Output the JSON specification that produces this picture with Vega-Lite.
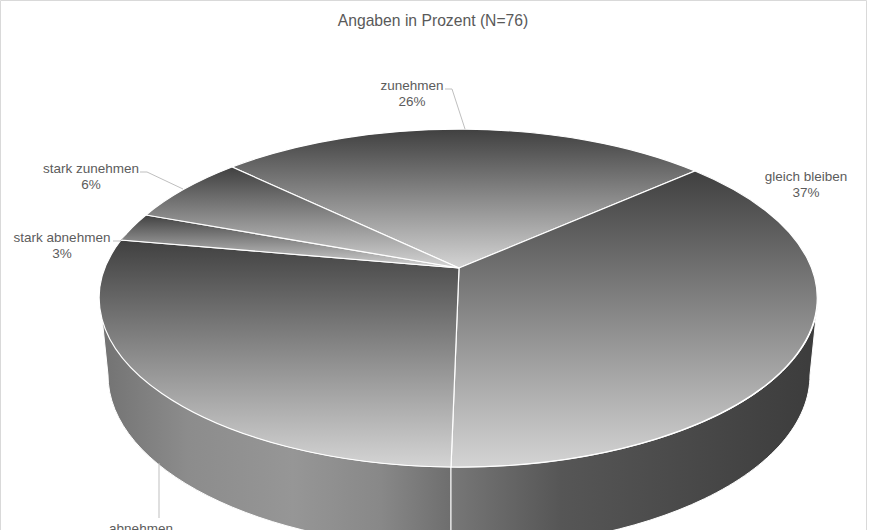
{
  "$schema": "https://vega.github.io/schema/vega-lite/v6.json",
  "width": 866,
  "height": 530,
  "autosize": {"type": "none"},
  "padding": {"left": 0, "right": 24, "top": 0, "bottom": 0},
  "background": "white",
  "view": {"stroke": "#d9d9d9", "fill": "white"},
  "title": {"text": "Angaben in Prozent (N=76)", "anchor": "middle", "font": "Liberation Sans", "fontSize": 15.7, "fontWeight": "normal", "color": "#595959", "dy": 34},
  "data": {"values": [
    {"Antwort": "zunehmen", "Prozent": 26, "Beschriftung": "zunehmen\n26%"},
    {"Antwort": "gleich bleiben", "Prozent": 37, "Beschriftung": "gleich bleiben\n37%"},
    {"Antwort": "abnehmen", "Prozent": 28, "Beschriftung": "abnehmen\n28%"},
    {"Antwort": "stark abnehmen", "Prozent": 3, "Beschriftung": "stark abnehmen\n3%"},
    {"Antwort": "stark zunehmen", "Prozent": 6, "Beschriftung": "stark zunehmen\n6%"}
  ]},
  "resolve": {"scale": {"shape": "independent"}},
  "layer": [
    {
      "transform": [{"filter": "datum.Antwort === 'abnehmen'"}],
      "mark": {"type": "point", "filled": true, "opacity": 1, "size": 4, "stroke": "white", "strokeWidth": 1,
        "shape": "M-333 33 L-325 110 A351 173 0 0 0 18 283 L18 202 A359 169 0 0 1 -333 33 Z",
        "fill": {"x1": 0, "y1": 0, "x2": 1, "y2": 0, "gradient": "linear", "stops": [
          {"offset": 0, "color": "#727272"}, {"offset": 0.25, "color": "#8c8c8c"}, {"offset": 0.55, "color": "#969696"}, {"offset": 0.8, "color": "#888888"}, {"offset": 1, "color": "#6e6e6e"}]}},
      "encoding": {}
    },
    {
      "transform": [{"filter": "datum.Antwort === 'gleich bleiben'"}],
      "mark": {"type": "point", "filled": true, "opacity": 1, "size": 4, "stroke": "white", "strokeWidth": 1,
        "shape": "M18 202 L18 283 A351 173 0 0 0 377 110 L385 33 A359 169 0 0 1 18 202 Z",
        "fill": {"x1": 0, "y1": 0, "x2": 1, "y2": 0, "gradient": "linear", "stops": [
          {"offset": 0, "color": "#777777"}, {"offset": 0.3, "color": "#565656"}, {"offset": 1, "color": "#3c3c3c"}]}},
      "encoding": {}
    },
    {
      "mark": {"type": "point", "filled": true, "opacity": 1, "size": 4, "stroke": "white", "strokeWidth": 1.2,
        "fill": {"x1": 0, "y1": 0, "x2": 0, "y2": 1, "gradient": "linear", "stops": [
          {"offset": 0, "color": "#404040"}, {"offset": 1, "color": "#d4d4d4"}]}},
      "encoding": {
        "shape": {"field": "Antwort", "type": "nominal", "legend": null, "scale": {
          "domain": ["zunehmen", "gleich bleiben", "abnehmen", "stark abnehmen", "stark zunehmen"],
          "range": [
            "M26 3 L-201 -98 A359 169 0 0 1 262 -94 Z",
            "M26 3 L262 -94 A359 169 0 0 1 18 202 Z",
            "M26 3 L18 202 A359 169 0 0 1 -312 -25 Z",
            "M26 3 L-312 -25 A359 169 0 0 1 -287 -50 Z",
            "M26 3 L-287 -50 A359 169 0 0 1 -201 -98 Z"
          ]}}
      }
    },
    {
      "transform": [{"filter": "datum.Antwort !== 'gleich bleiben'"}],
      "mark": {"type": "point", "filled": false, "fill": null, "opacity": 1, "size": 4, "stroke": "#bfbfbf", "strokeWidth": 1},
      "encoding": {
        "shape": {"field": "Antwort", "type": "nominal", "legend": null, "scale": {
          "domain": ["zunehmen", "abnehmen", "stark abnehmen", "stark zunehmen"],
          "range": [
            "M12 -176 L19 -176 L32 -136",
            "M-274 198 L-274 253",
            "M-320 -24 L-313 -24 L-306 -31",
            "M-293 -93 L-286 -93 L-250 -76"
          ]}}
      }
    },
    {
      "transform": [{"filter": "datum.Antwort === 'zunehmen'"}],
      "mark": {"type": "text", "font": "Liberation Sans", "fontSize": 13.5, "color": "#5c5c5c", "lineBreak": "\n", "lineHeight": 16, "align": "center", "baseline": "middle", "dx": -21, "dy": -179},
      "encoding": {"text": {"field": "Beschriftung"}}
    },
    {
      "transform": [{"filter": "datum.Antwort === 'gleich bleiben'"}],
      "mark": {"type": "text", "font": "Liberation Sans", "fontSize": 13.5, "color": "#5c5c5c", "lineBreak": "\n", "lineHeight": 16, "align": "center", "baseline": "middle", "dx": 373, "dy": -88},
      "encoding": {"text": {"field": "Beschriftung"}}
    },
    {
      "transform": [{"filter": "datum.Antwort === 'abnehmen'"}],
      "mark": {"type": "text", "font": "Liberation Sans", "fontSize": 13.5, "color": "#5c5c5c", "lineBreak": "\n", "lineHeight": 16, "align": "center", "baseline": "middle", "dx": -292, "dy": 264},
      "encoding": {"text": {"field": "Beschriftung"}}
    },
    {
      "transform": [{"filter": "datum.Antwort === 'stark abnehmen'"}],
      "mark": {"type": "text", "font": "Liberation Sans", "fontSize": 13.5, "color": "#5c5c5c", "lineBreak": "\n", "lineHeight": 16, "align": "center", "baseline": "middle", "dx": -371, "dy": -27},
      "encoding": {"text": {"field": "Beschriftung"}}
    },
    {
      "transform": [{"filter": "datum.Antwort === 'stark zunehmen'"}],
      "mark": {"type": "text", "font": "Liberation Sans", "fontSize": 13.5, "color": "#5c5c5c", "lineBreak": "\n", "lineHeight": 16, "align": "center", "baseline": "middle", "dx": -342, "dy": -96},
      "encoding": {"text": {"field": "Beschriftung"}}
    }
  ]
}
